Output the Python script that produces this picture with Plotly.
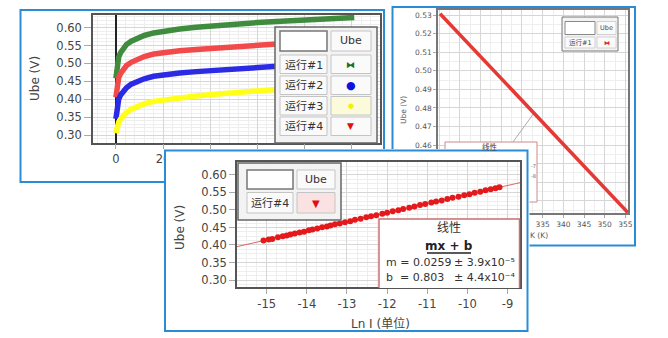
import plotly.graph_objects as go

W, H = 668, 338
FONT = "DejaVu Sans, Noto Sans CJK SC"

# ---------------- run curves: Ube (V) vs time ----------------
t_run = [0, 0.3, 0.7, 1.2, 2, 3, 4.5, 6.5, 9, 12, 16, 21, 27, 34, 42, 51, 60, 70, 80, 90, 101]
ube_run1 = [0.458, 0.485, 0.505, 0.518, 0.530, 0.541, 0.553, 0.562, 0.571, 0.578, 0.585,
            0.591, 0.596, 0.601, 0.606, 0.610, 0.614, 0.618, 0.621, 0.624, 0.628]
ube_run2 = [0.405, 0.430, 0.448, 0.460, 0.472, 0.483, 0.494, 0.503, 0.512, 0.519, 0.526,
            0.531, 0.535, 0.539, 0.543, 0.548, 0.552, 0.556, 0.559, 0.562, 0.565]
ube_run3 = [0.345, 0.370, 0.388, 0.400, 0.412, 0.422, 0.432, 0.442, 0.450, 0.457, 0.464,
            0.469, 0.473, 0.477, 0.481, 0.486, 0.490, 0.494, 0.497, 0.500, 0.503]
ube_run4 = [0.305, 0.318, 0.328, 0.336, 0.345, 0.354, 0.363, 0.372, 0.380, 0.387, 0.394,
            0.399, 0.404, 0.409, 0.414, 0.419, 0.424, 0.429, 0.433, 0.436, 0.439]
run_names = ["运行#1", "运行#2", "运行#3", "运行#4"]
run_colors = ["#3f8c3f", "#f24a4a", "#2b2be6", "#ffff1a"]
t_ticks = [0, 20, 40, 60, 80, 100]
t_tick_text = ["0", "20", "", "", "", ""]          # the rest sit behind the front panel

# ---------------- Ube (V) vs temperature (K) ----------------
temp_k = [310.2, 315, 320, 325, 330, 335, 340, 345, 350, 355.6]
ube_temp = [0.5307, 0.5194, 0.5079, 0.4962, 0.4845, 0.4727, 0.4608, 0.4490, 0.4371, 0.4236]
k_ticks = [310, 315, 320, 325, 330, 335, 340, 345, 350, 355]
k_tick_text = ["", "", "", "", "", "335", "340", "345", "350", "355"]
v2_ticks = [0.43, 0.44, 0.45, 0.46, 0.47, 0.48, 0.49, 0.50, 0.51, 0.52, 0.53]
v2_tick_text = ["", "", "", "0.46", "0.47", "0.48", "0.49", "0.50", "0.51", "0.52", "0.53"]

# ---------------- Ube (V) vs ln I with linear fit ----------------
ln_i = [-15.08, -14.95, -14.86, -14.72, -14.6, -14.5, -14.41, -14.3, -14.18, -14.07,
        -13.95, -13.86, -13.74, -13.62, -13.5, -13.41, -13.3, -13.18, -13.05, -12.92,
        -12.8, -12.66, -12.52, -12.4, -12.27, -12.12, -12.0, -11.86, -11.72, -11.6,
        -11.45, -11.32, -11.18, -11.05, -10.9, -10.78, -10.64, -10.5, -10.37, -10.22,
        -10.08, -9.95, -9.82, -9.68, -9.55, -9.42, -9.3, -9.2]
ube_ln = [0.413, 0.416, 0.417, 0.422, 0.425, 0.427, 0.430, 0.433, 0.436, 0.438,
          0.442, 0.444, 0.447, 0.451, 0.453, 0.456, 0.459, 0.461, 0.465, 0.468,
          0.472, 0.475, 0.479, 0.482, 0.485, 0.489, 0.492, 0.496, 0.499, 0.503,
          0.506, 0.510, 0.514, 0.517, 0.521, 0.524, 0.527, 0.531, 0.535, 0.538,
          0.542, 0.545, 0.549, 0.552, 0.556, 0.559, 0.562, 0.565]
ln_ticks = [-15, -14, -13, -12, -11, -10, -9]
ln_tick_text = ["-15", "-14", "-13", "-12", "-11", "-10", "-9"]
fit_m, fit_m_err = 0.0259, "3.9x10⁻⁵"
fit_b, fit_b_err = 0.803, "4.4x10⁻⁴"

# axis ranges
X1_RANGE, Y1_RANGE = [-9.7, 111.9], [0.2785, 0.636]
X2_RANGE, Y2_RANGE = [309.7, 355.7], [0.4234, 0.5327]
X4_RANGE, Y4_RANGE = [-15.74, -8.69], [0.28, 0.637]

# panel pixel geometry (left, top, right, bottom)
P1_PLOT = (93, 14.7, 380, 142.7)
P2_PLOT = (438, 10, 628.3, 213)
P3_FRAME = (164, 149, 529.5, 334)
P3_PLOT = (237, 162, 520, 287)

BLUE = "#2b8cd6"
GRID, MINOR = "#d6d6d6", "#eeeeee"


def dom_x(box):
    return [box[0] / W, box[2] / W]


def dom_y(box):
    return [1 - box[3] / H, 1 - box[1] / H]


def p2x(px):
    return X2_RANGE[0] + (px - P2_PLOT[0]) / (P2_PLOT[2] - P2_PLOT[0]) * (X2_RANGE[1] - X2_RANGE[0])


def p2y(py):
    return Y2_RANGE[1] - (py - P2_PLOT[1]) / (P2_PLOT[3] - P2_PLOT[1]) * (Y2_RANGE[1] - Y2_RANGE[0])


def f3x(px):
    return (px - P3_FRAME[0]) / (P3_FRAME[2] - P3_FRAME[0])


def f3y(py):
    return (P3_FRAME[3] - py) / (P3_FRAME[3] - P3_FRAME[1])


def prect(x0, y0, x1, y1, fill, line, lw, layer="above"):
    return dict(type="rect", xref="paper", yref="paper", x0=x0 / W, x1=x1 / W,
                y0=1 - y1 / H, y1=1 - y0 / H, fillcolor=fill,
                line=dict(color=line, width=lw), layer=layer)


def txt(x, y, s, size, color="#333", xanchor="center", angle=0, family=FONT):
    return dict(x=x / W, y=1 - y / H, xref="paper", yref="paper", text=s, showarrow=False,
                xanchor=xanchor, yanchor="middle", textangle=angle, borderpad=0,
                font=dict(size=size, color=color, family=family))


fig = go.Figure()

# run curves
for name, vals, col in zip(run_names, [ube_run1, ube_run2, ube_run3, ube_run4], run_colors):
    fig.add_trace(go.Scatter(x=t_run, y=vals, mode="lines", name=name,
                             line=dict(color=col, width=5.5), xaxis="x", yaxis="y"))

# temperature sweep
fig.add_trace(go.Scatter(x=temp_k, y=ube_temp, mode="lines", name="运行#1",
                         line=dict(color="#e53935", width=3.5), xaxis="x2", yaxis="y2"))

# backing sheet for the front panel
fig.add_trace(go.Scatter(x=[None], y=[None], mode="markers", xaxis="x3", yaxis="y3",
                         hoverinfo="skip"))

# ln I panel: fit line and points
fit_x = X4_RANGE
fit_y = [fit_m * v + fit_b for v in fit_x]
fig.add_trace(go.Scatter(x=fit_x, y=fit_y, mode="lines", line=dict(color="#e06464", width=1),
                         xaxis="x4", yaxis="y4"))
fig.add_trace(go.Scatter(x=ln_i, y=ube_ln, mode="markers", name="运行#4",
                         marker=dict(color="#e3191c", size=6), xaxis="x4", yaxis="y4"))

axis_common = dict(showline=True, mirror=True, linewidth=1.5, ticks="outside",
                   showgrid=True, gridcolor=GRID, gridwidth=1, automargin=False)

fig.update_layout(
    width=W, height=H, margin=dict(l=0, r=0, t=0, b=0, autoexpand=False),
    paper_bgcolor="white", plot_bgcolor="white", showlegend=False,
    xaxis=dict(domain=dom_x(P1_PLOT), range=X1_RANGE, anchor="y", tickmode="array",
               tickvals=t_ticks, ticktext=t_tick_text,
               linecolor="#555", tickcolor="#aaa", ticklen=5,
               tickfont=dict(size=11.5, color="#444", family=FONT),
               zeroline=True, zerolinecolor="#222", zerolinewidth=1.5,
               minor=dict(dtick=4, tick0=0, showgrid=True, gridcolor=MINOR), **axis_common),
    yaxis=dict(domain=dom_y(P1_PLOT), range=Y1_RANGE, anchor="x", tick0=0.3, dtick=0.05,
               tickformat=".2f", linecolor="#555", tickcolor="#aaa", ticklen=7,
               tickfont=dict(size=11.5, color="#444", family=FONT), zeroline=False,
               minor=dict(dtick=0.01, tick0=0.3, showgrid=True, gridcolor=MINOR), **axis_common),
    xaxis2=dict(domain=dom_x(P2_PLOT), range=X2_RANGE, anchor="y2", tickmode="array",
                tickvals=k_ticks, ticktext=k_tick_text,
                linecolor="#777", tickcolor="#aaa", ticklen=3,
                tickfont=dict(size=7.5, color="#555", family=FONT), zeroline=False,
                minor=dict(dtick=2.5, tick0=0, showgrid=True, gridcolor=MINOR), **axis_common),
    yaxis2=dict(domain=dom_y(P2_PLOT), range=Y2_RANGE, anchor="x2", tickmode="array",
                tickvals=v2_ticks, ticktext=v2_tick_text,
                linecolor="#777", tickcolor="#aaa", ticklen=3,
                tickfont=dict(size=7.5, color="#555", family=FONT), zeroline=False,
                minor=dict(dtick=0.005, tick0=0.3, showgrid=True, gridcolor=MINOR), **axis_common),
    xaxis3=dict(domain=dom_x(P3_FRAME), range=[0, 1], anchor="y3", visible=False),
    yaxis3=dict(domain=dom_y(P3_FRAME), range=[0, 1], anchor="x3", visible=False),
    xaxis4=dict(domain=dom_x(P3_PLOT), range=X4_RANGE, anchor="y4", tickmode="array",
                tickvals=ln_ticks, ticktext=ln_tick_text,
                linecolor="#555", tickcolor="#aaa", ticklen=5,
                tickfont=dict(size=11.5, color="#444", family=FONT), zeroline=False,
                minor=dict(dtick=0.25, tick0=0, showgrid=True, gridcolor=MINOR), **axis_common),
    yaxis4=dict(domain=dom_y(P3_PLOT), range=Y4_RANGE, anchor="x4", tick0=0.3, dtick=0.05,
                tickformat=".2f", linecolor="#555", tickcolor="#aaa", ticklen=6,
                tickfont=dict(size=11.5, color="#444", family=FONT), zeroline=False,
                minor=dict(dtick=0.0125, tick0=0.3, showgrid=True, gridcolor=MINOR), **axis_common),
)

shapes = []
# panel frames (back panels)
shapes.append(prect(20.5, 10, 384, 182, "rgba(0,0,0,0)", BLUE, 2, layer="below"))
shapes.append(prect(392.5, 7, 635, 245.5, "rgba(0,0,0,0)", BLUE, 2, layer="below"))
# front panel sheet, drawn in its own subplot layer so it hides the panels behind
shapes.append(dict(type="rect", xref="x3", yref="y3", x0=f3x(165), x1=f3x(527.5),
                   y0=f3y(331), y1=f3y(150.5), fillcolor="white",
                   line=dict(color=BLUE, width=2), layer="below"))

# fit box on the temperature panel with its leader line
shapes.append(dict(type="rect", xref="x2", yref="y2", x0=p2x(445), x1=p2x(537),
                   y0=p2y(202), y1=p2y(142), fillcolor="white",
                   line=dict(color="#d08a8a", width=1), layer="between"))
shapes.append(dict(type="line", xref="x2", yref="y2", x0=p2x(513), x1=p2x(534),
                   y0=p2y(142), y1=p2y(113), line=dict(color="#aaaaaa", width=1),
                   layer="between"))

# legend table: run curves
shapes.append(prect(275, 27, 377, 143, "#f3f3f3", "#666", 1.5))
shapes.append(prect(280, 31, 327, 51, "white", "#777", 1.5))
shapes.append(prect(331, 31, 371, 51, "#fafafa", "#c4c4c4", 1))
row_tops = [55, 76, 96.5, 117]
cell_fill = ["#fafafa", "#fafafa", "#fbfbdc", "#fafafa"]
for top, cf in zip(row_tops, cell_fill):
    shapes.append(prect(280, top, 327, top + 18.5, "#fafafa", "#c4c4c4", 1))
    shapes.append(prect(331, top, 371, top + 18.5, cf, "#c4c4c4", 1))

# legend table: temperature panel
shapes.append(prect(562, 17, 618, 51, "#f3f3f3", "#777", 1))
shapes.append(prect(565, 21.5, 595, 34.5, "white", "#888", 1))
shapes.append(prect(597, 21.5, 616, 34.5, "#fafafa", "#c8c8c8", 0.8))
shapes.append(prect(565, 37, 595, 48, "#fafafa", "#c8c8c8", 0.8))
shapes.append(prect(597, 37, 616, 48, "#fafafa", "#c8c8c8", 0.8))

# legend table: ln I panel
shapes.append(prect(238, 163, 341, 220, "#f3f3f3", "#666", 1.5))
shapes.append(prect(247, 170, 293, 189, "white", "#777", 1.5))
shapes.append(prect(297, 170, 335, 189, "#fafafa", "#c4c4c4", 1))
shapes.append(prect(247, 192.5, 293, 213, "#fafafa", "#c4c4c4", 1))
shapes.append(prect(297, 192.5, 335, 213, "#fbe2e2", "#c4c4c4", 1))

# linear fit result box
shapes.append(prect(379, 219, 519.5, 288, "white", "rgba(0,0,0,0)", 0))
shapes.append(dict(type="path", xref="paper", yref="paper",
                   path="M {:.5f},{:.5f} L {:.5f},{:.5f} L {:.5f},{:.5f} L {:.5f},{:.5f}".format(
                       379 / W, 1 - 288 / H, 379 / W, 1 - 219 / H,
                       519.5 / W, 1 - 219 / H, 519.5 / W, 1 - 288 / H),
                   line=dict(color="#c97272", width=1.5), layer="above"))
shapes.append(dict(type="line", xref="paper", yref="paper", x0=427 / W, x1=471 / W,
                   y0=1 - 253 / H, y1=1 - 253 / H, line=dict(color="#222", width=1.5),
                   layer="above"))

annotations = [
    # run panel
    txt(35, 79, "Ube (V)", 12, "#444", angle=-90),
    txt(351, 41, "Ube", 11, "#333"),
    txt(303.5, 65, "运行#1", 11, "#333"),
    txt(303.5, 86, "运行#2", 11, "#333"),
    txt(303.5, 106, "运行#3", 11, "#333"),
    txt(303.5, 126.5, "运行#4", 11, "#333"),
    txt(351, 65, "⧓", 9, "#1b6e1b"),
    txt(351, 85.5, "●", 11, "#1010e0"),
    txt(351, 106, "●", 7, "#f2f200"),
    txt(351, 126.5, "▼", 9, "#e01010"),
    # temperature panel
    txt(403, 110, "Ube (V)", 7.5, "#555", angle=-90),
    txt(528.5, 235, "K (K)", 7.5, "#555", xanchor="left"),
    txt(606.5, 28, "Ube", 6.5, "#444"),
    txt(580, 42.5, "运行#1", 6.5, "#444"),
    txt(606.5, 42.5, "⧓", 6, "#e02020"),
    txt(490, 147, "线性", 7.5, "#444"),
    txt(529.5, 165.5, "-7", 5, "#666", xanchor="left"),
    txt(529.5, 176.5, "-8", 5, "#666", xanchor="left"),
    # ln I panel
    txt(180, 228, "Ube (V)", 12, "#444", angle=-90),
    txt(380, 323, "Ln I (单位)", 12, "#444"),
    txt(316, 179.5, "Ube", 11, "#333"),
    txt(270, 203, "运行#4", 11, "#333"),
    txt(316, 203, "▼", 10, "#e01010"),
    txt(449, 228.5, "线性", 12, "#333"),
    txt(449, 246, "<b>mx + b</b>", 12, "#222"),
    txt(384.5, 262, "m = {:.4f}".format(fit_m), 11, "#333", xanchor="left"),
    txt(453, 262, "± " + fit_m_err, 11, "#333", xanchor="left"),
    txt(384.5, 277.5, "b  = {:.3f}".format(fit_b), 11, "#333", xanchor="left"),
    txt(453, 277.5, "± " + fit_b_err, 11, "#333", xanchor="left"),
]

fig.update_layout(shapes=shapes, annotations=annotations)
fig.write_html("out.html")
